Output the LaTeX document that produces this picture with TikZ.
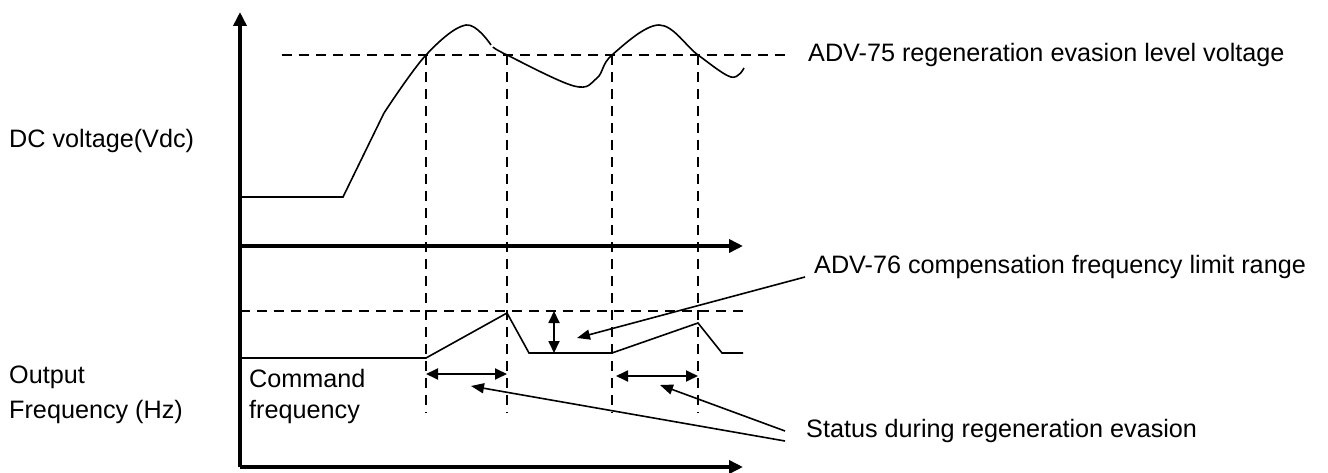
\documentclass[tikz,border=0pt]{standalone}
\usepackage{fontspec}
\setmainfont{Liberation Sans}
\usetikzlibrary{arrows.meta}

\tikzset{
  axis/.style={line width=3.5pt,-{Triangle[length=14pt,width=13pt]}},
  guide/.style={line width=2.4pt,dash pattern=on 10pt off 7pt},
  wave/.style={line width=1.6pt},
  span/.style={line width=1.8pt,{Triangle[length=12pt,width=11pt]}-{Triangle[length=12pt,width=11pt]}},
  lead/.style={line width=1.6pt,-{Triangle[length=13pt,width=10pt]}},
  lbl/.style={anchor=base west,inner sep=0pt,font=\fontsize{25.2}{30}\selectfont}
}

\begin{document}
\begin{tikzpicture}[x=1pt,y=-1pt]
\useasboundingbox (0,0) rectangle (1328,473);
\coordinate (O) at (240,467); \coordinate (Y) at (240,12);
\coordinate (Ax) at (240,246); \coordinate (Bx) at (743,246); \coordinate (Cx) at (743,467);
\coordinate (T1) at (426,55); \coordinate (T2) at (507,55); \coordinate (T3) at (612,55); \coordinate (T4) at (698,55);
% axes
\draw[axis] (O)--(Y);
\draw[axis] (Ax)--(Bx);
\draw[axis] (O)--(Cx);
% level lines
\draw[guide] (282,55)--(790,55);
\draw[guide] (240,311)--(743,311);
\foreach \t in {T1,T2,T3,T4} \draw[guide] (\t)--(\t |- 0,413);
% DC voltage
\draw[wave] (240,197)--(343,197)--(384,113);
\draw[wave] plot[smooth,tension=0.6] coordinates {(384,113) (426,55) (466,25) (491,45)};
\draw[wave] plot[smooth,tension=0.6] coordinates {(493,47) (507,55) (574,86) (597,78) (612,55) (659,25) (698,55) (731,77) (744,68)};
% output frequency
\draw[wave] (240,358)--(426,358)--(507,313)--(529,353)--(612,353)--(698,323)--(722,353)--(743,353);
\draw[span] (554,311)--(554,353);
\draw[span] (426,374)--(507,374);
\draw[span] (616,376)--(698,376);
% labels
\node[lbl] (dcv) at (9,148) {DC voltage(Vdc)};
\node[lbl] (outf) at (9,383) {Output};
\node[lbl] (outhz) at (9,418) {Frequency (Hz)};
\node[lbl] (cmd) at (249,387) {Command};
\node[lbl] (cmdf) at (249,418) {frequency};
\node[lbl] (lvl) at (808,62) {ADV-75 regeneration evasion level voltage};
\node[lbl] (lim) at (814,273) {ADV-76 compensation frequency limit range};
\node[lbl] (sts) at (806,437) {Status during regeneration evasion};
% leaders
\coordinate (limA) at (805,277); \coordinate (stsA) at (785,431); \coordinate (stsB) at (785,441);
\draw[lead] (limA)--(577,338);
\draw[lead] (stsA)--(660,385);
\draw[lead] (stsB)--(471,386);
\end{tikzpicture}
\end{document}
